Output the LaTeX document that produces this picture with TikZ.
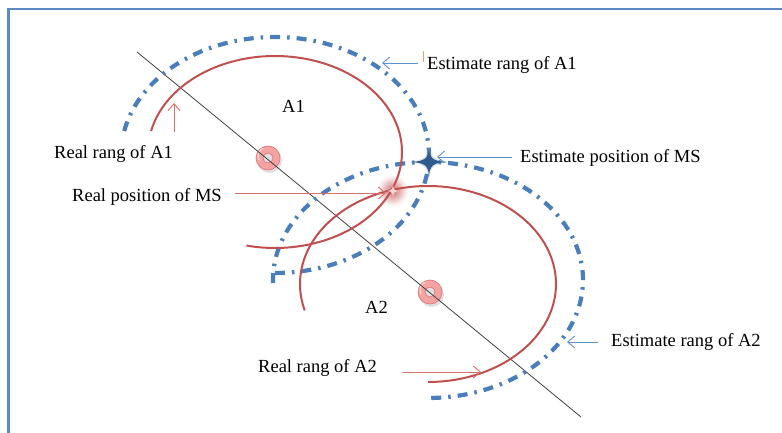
\documentclass[tikz,border=0pt]{standalone}
\usepackage{fontspec}
\setmainfont{Liberation Serif}
\usetikzlibrary{arrows.meta}
\definecolor{frameblue}{HTML}{5A8AC6}
\definecolor{realred}{HTML}{C0504D}
\definecolor{arrowred}{HTML}{D9706E}
\definecolor{estblue}{HTML}{4A7EBB}
\definecolor{arrowblue}{HTML}{5B8FD0}
\definecolor{starblue}{HTML}{2E5A8E}
\definecolor{ringpink}{HTML}{F4A3A3}
\definecolor{ringedge}{HTML}{E07A7A}
\definecolor{tickorange}{HTML}{E8A060}
\begin{document}
\begin{tikzpicture}[x=1pt,y=-1pt,
  redcurve/.style={draw=realred, line width=2pt},
  estcurve/.style={draw=estblue, line width=4.2pt, dash pattern=on 10pt off 7pt on 2.5pt off 7pt},
  bluearrow/.style={draw=arrowblue, line width=0.9pt, -{Straight Barb[length=7pt,width=12pt]}},
  redarrow/.style={draw=arrowred, line width=0.9pt, -{Straight Barb[length=7pt,width=12pt]}},
  lbl/.style={inner sep=0pt, font=\fontsize{18.5}{20}\selectfont, anchor=base west},
  ringmark/.style={fill=ringpink, draw=ringedge, line width=0.7pt, even odd rule}]
\useasboundingbox (0,0) rectangle (782,433);
% frame
\draw[frameblue, line width=2.2pt] (8.5,433) -- (8.5,9) -- (782,9);
% markers (rings)
\coordinate (r1) at (268,158);
\coordinate (r2) at (430,292);
\foreach \c in {r1,r2}{
  \fill[black, opacity=0.12] ([shift={(1.5,2.5)}]\c) circle (12.5);
  \path[ringmark] (\c) circle (12) (\c) circle (5);
  \draw[white, opacity=0.45, line width=1.5pt] ([shift={(-2,-2)}]\c) ++(150:8) arc[start angle=150, end angle=250, radius=8];
}
% axis line
\coordinate (la) at (137,52);
\coordinate (lb) at (581,417);
\draw[black!75, line width=0.8pt] (la) -- (lb);
% estimate ranges (ellipse arcs)
\draw[estcurve] plot[variable=\t, domain=191.7:451, samples=160] ({275+154*cos(\t)},{155+118*sin(\t)});
\draw[estcurve] plot[variable=\t, domain=178.5:450, samples=160] ({428+155*cos(\t)},{280+118*sin(\t)});
% real ranges (ellipse arcs)
\draw[redcurve] plot[variable=\t, domain=192.6:463, samples=160] ({275+127*cos(\t)},{152+96*sin(\t)});
\draw[redcurve] plot[variable=\t, domain=164.4:450, samples=160] ({428+128*cos(\t)},{284+98*sin(\t)});
% real position of MS (glow)
\coordinate (ms) at (393,191);
\foreach \r/\o in {15/0.08, 13/0.1, 11/0.13, 9/0.16, 7/0.2, 5/0.24, 3/0.25}{
  \fill[realred, opacity=\o] (ms) circle (\r);
}
\fill[ringpink!50!white, shift={(393,191)}] (-6,0) .. controls (-1.5,-0.6) and (-0.6,-1.5) .. (0,-6) .. controls (0.6,-1.5) and (1.5,-0.6) .. (6,0) .. controls (1.5,0.6) and (0.6,1.5) .. (0,6) .. controls (-0.6,1.5) and (-1.5,0.6) .. (-6,0) -- cycle;
% estimate position of MS (star)
\coordinate (est) at (429,162);
\fill[starblue!50!white, opacity=0.4, shift={(429,162)}] (-20,0) .. controls (-5,-1.8) and (-1.8,-5) .. (0,-16) .. controls (1.8,-5) and (5,-1.8) .. (20,0) .. controls (5,1.8) and (1.8,5) .. (0,16) .. controls (-1.8,5) and (-5,1.8) .. (-20,0) -- cycle;
\fill[starblue, shift={(429,162)}] (-18,0) .. controls (-4,-0.8) and (-0.8,-3.5) .. (0,-14) .. controls (0.8,-3.5) and (4,-0.8) .. (18,0) .. controls (4,0.8) and (0.8,3.5) .. (0,14) .. controls (-0.8,3.5) and (-4,0.8) .. (-18,0) -- cycle;
% labels
\node[lbl] (tEA1) at (427,70) {Estimate rang of A1};
\node[lbl] (tA1) at (282,113) {A1};
\node[lbl] (tRA1) at (54,158.5) {Real rang of A1};
\node[lbl] (tEMS) at (520,163) {Estimate position of MS};
\node[lbl] (tRMS) at (72,201) {Real position of MS};
\node[lbl] (tA2) at (365,313) {A2};
\node[lbl] (tRA2) at (258,372) {Real rang of A2};
\node[lbl] (tEA2) at (611,346) {Estimate rang of A2};
% small orange tick
\coordinate (tk1) at (423,51);
\coordinate (tk2) at (423,62);
\draw[tickorange, line width=0.7pt] (tk1) -- (tk2);
% arrows
\coordinate (aEA1s) at (418,63);  \coordinate (aEA1e) at (382,63);
\coordinate (aEMSs) at (512,157); \coordinate (aEMSe) at (437,157);
\coordinate (aEA2s) at (598,342); \coordinate (aEA2e) at (567,342);
\coordinate (aRA1s) at (174,132); \coordinate (aRA1e) at (174,103);
\coordinate (aRMSs) at (235,193); \coordinate (aRMSe) at (386,193);
\coordinate (aRA2s) at (403,372); \coordinate (aRA2e) at (481,372);
\draw[bluearrow] (aEA1s) -- (aEA1e);
\draw[bluearrow] (aEMSs) -- (aEMSe);
\draw[bluearrow] (aEA2s) -- (aEA2e);
\draw[redarrow] (aRA1s) -- (aRA1e);
\draw[redarrow] (aRMSs) -- (aRMSe);
\draw[redarrow] (aRA2s) -- (aRA2e);
\end{tikzpicture}
\end{document}
